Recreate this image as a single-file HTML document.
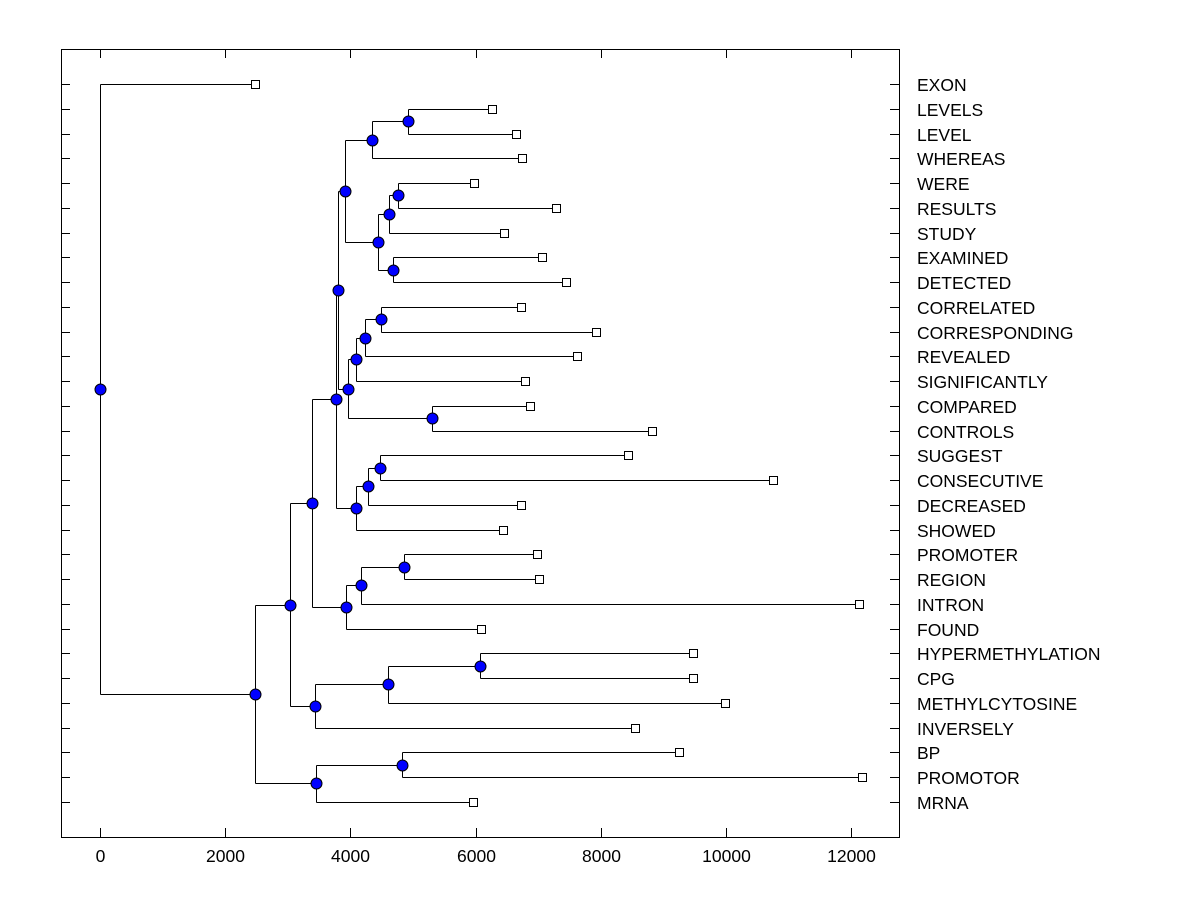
<!DOCTYPE html>
<html><head><meta charset="utf-8">
<style>
body{margin:0;background:#fff;}
svg{display:block;font-family:"Liberation Sans",Arial,sans-serif;}
</style></head>
<body>
<svg id="chart" width="1200" height="900" viewBox="0 0 1200 900"></svg>
<script>
const leafNames=["EXON","LEVELS","LEVEL","WHEREAS","WERE","RESULTS","STUDY","EXAMINED","DETECTED","CORRELATED","CORRESPONDING","REVEALED","SIGNIFICANTLY","COMPARED","CONTROLS","SUGGEST","CONSECUTIVE","DECREASED","SHOWED","PROMOTER","REGION","INTRON","FOUND","HYPERMETHYLATION","CPG","METHYLCYTOSINE","INVERSELY","BP","PROMOTOR","MRNA"];
const leafHeights=[2475,6260,6644,6739,5973,7282,6452,7059,7442,6723,7921,7618,6787,6867,8815,8432,10748,6723,6436,6979,7011,12121,6085,9470,9470,9981,8544,9246,12169,5957];
// internal nodes: ids start at 30
const nodeLeft =[1,30,4,32,7,33,31,9,37,38,13,39,36,15,43,44,42,19,47,48,46,23,51,52,50,27,55,54,0];
const nodeRight=[2,3,5,6,8,34,35,10,11,12,14,40,41,16,17,18,45,20,21,22,49,24,25,26,53,28,29,56,57];
const nodeHeights=[4919,4344,4759,4615,4679,4440,3913,4488,4232,4088,5302,3961,3801,4472,4280,4088,3769,4855,4168,3929,3386,6069,4599,3434,3034,4823,3450,2475,0];
const xTicks=[0,2000,4000,6000,8000,10000,12000];

const svg=document.getElementById('chart');
const NS='http://www.w3.org/2000/svg';
const L=61,R=899,T=49,B=837;
const x=v=>100+v*0.0626;
const y0=84,dy=(802-84)/29;
const yRow=i=>y0+i*dy;
function mk(tag,attrs,parent){const e=document.createElementNS(NS,tag);for(const k in attrs)e.setAttribute(k,attrs[k]);(parent||svg).appendChild(e);return e;}

const frame=mk('rect',{x:L+0.5,y:T+0.5,width:R-L,height:B-T,fill:'none',stroke:'#000','stroke-width':1});



xTicks.forEach(t=>{
  const px=Math.round(x(t))+0.5;
  const tb=mk('line',{x1:px,x2:px,y1:B,y2:B-9,stroke:'#000'});
  
  
  const tt=mk('line',{x1:px,x2:px,y1:T,y2:T+9,stroke:'#000'});
  
  
  const lb=mk('text',{x:px,y:862,'font-size':17.5,'text-anchor':'middle',fill:'#000'});
  lb.textContent=String(t);
  
  
});
leafNames.forEach((n,i)=>{
  const py=Math.round(yRow(i))+0.5;
  const a=mk('line',{x1:L,x2:L+9,y1:py,y2:py,stroke:'#000'});
  
  
  const b=mk('line',{x1:R-9,x2:R,y1:py,y2:py,stroke:'#000'});
  
  
  const t=mk('text',{x:917,y:py+6.5,'font-size':17.5,fill:'#000'});
  t.textContent=n;
  
  
});

const posY={},posH={};
leafNames.forEach((n,i)=>{posY[i]=yRow(i);posH[i]=leafHeights[i];});
nodeHeights.forEach((h,k)=>{const id=30+k;posH[id]=h;posY[id]=(posY[nodeLeft[k]]+posY[nodeRight[k]])/2;});

const gl=mk('g',{stroke:'#000','stroke-width':1,fill:'none'});


nodeHeights.forEach((h,k)=>{
  const px=Math.round(x(h))+0.5;
  const a=nodeLeft[k],b=nodeRight[k];
  const ya=Math.round(posY[a])+0.5,yb=Math.round(posY[b])+0.5;
  const v=mk('line',{x1:px,x2:px,y1:ya,y2:yb},gl);
  
  
  [a,b].forEach(c=>{
    const yc=Math.round(posY[c])+0.5;
    const hl=mk('line',{x1:px,x2:Math.round(x(posH[c]))+0.5,y1:yc,y2:yc},gl);
    
    
  });
});
leafNames.forEach((n,i)=>{
  const s=mk('rect',{x:Math.round(x(leafHeights[i]))-4+0.5,y:Math.round(yRow(i))-4+0.5,width:8,height:8,fill:'#fff',stroke:'#000'});
  
  
});
nodeHeights.forEach((h,k)=>{
  const c=mk('circle',{cx:Math.round(x(h))+0.5,cy:Math.round(posY[30+k])+0.5,r:5.5,fill:'#0000ff',stroke:'#000','stroke-width':1});
  
  
});
</script>
</body></html>
